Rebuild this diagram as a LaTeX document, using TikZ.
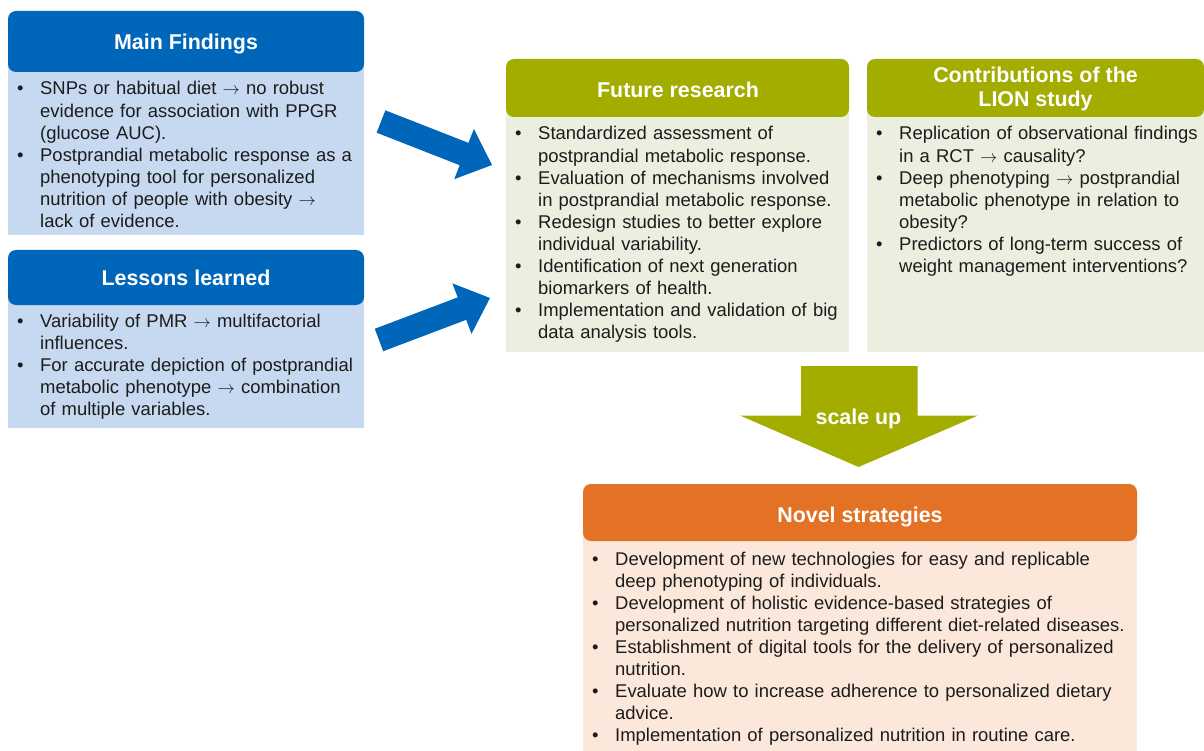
\documentclass[tikz,border=0pt]{standalone}
\usepackage{fontspec}
\setmainfont{Liberation Sans}
\usetikzlibrary{calc}

\definecolor{hdrblue}{RGB}{0,102,185}
\definecolor{bodyblue}{RGB}{198,217,240}
\definecolor{hdrolive}{RGB}{163,173,0}
\definecolor{bodyolive}{RGB}{235,239,223}
\definecolor{hdrorange}{RGB}{227,114,36}
\definecolor{bodypeach}{RGB}{252,232,219}
\definecolor{bodytext}{RGB}{28,28,28}

% one bullet paragraph with a hanging indent; items end with \par
\newcommand{\bul}{\hangindent=23pt\hangafter=1\noindent\makebox[23pt][l]{\textbullet}}
% thin arrow used inside the lists
\newcommand{\toarrow}{$\rightarrow$}

\tikzset{
  x=1pt, y=-1pt,
  hdrbox/.style={rectangle, rounded corners=8pt, fill=#1, draw=none, inner sep=0pt},
  bodybox/.style={rectangle, fill=#1, draw=none, inner sep=0pt},
  title/.style={anchor=base, inner sep=0pt, text=white, align=center,
    font=\fontsize{21.4}{24.8}\selectfont\bfseries},
  listtext/.style={anchor=base west, inner sep=0pt, text width=#1, align=left,
    text=bodytext, font=\fontsize{18.45}{22.05}\selectfont},
  bigarrow/.style={fill=hdrblue, draw=none},
}

\begin{document}
\begin{tikzpicture}
\useasboundingbox (0,0) rectangle (1204,751);
\begin{scope}
\clip (0,0) rectangle (1204,751);

% ---- Main Findings ----
\node (mfB) [bodybox=bodyblue, minimum width=356pt, minimum height=195pt] at (186,137.5) {};
\node (mfH) [hdrbox=hdrblue, minimum width=356pt, minimum height=61pt] at (186,41.5) {};
\node (mfT) [title] at (186,50) {Main Findings};
\node (mfL) [listtext=350pt] at (17,95) {%
\bul SNPs or habitual diet \toarrow{} no robust\newline evidence for association with PPGR\newline (glucose AUC).\par
\bul Postprandial metabolic response as a\newline phenotyping tool for personalized\newline nutrition of people with obesity \toarrow\newline lack of evidence.\par};

% ---- Lessons learned ----
\node (llB) [bodybox=bodyblue, minimum width=356pt, minimum height=150pt] at (186,353) {};
\node (llH) [hdrbox=hdrblue, minimum width=356pt, minimum height=55pt] at (186,277.5) {};
\node (llT) [title] at (186,285.7) {Lessons learned};
\node (llL) [listtext=350pt] at (17,327.3) {%
\bul Variability of PMR \toarrow{} multifactorial\newline influences.\par
\bul For accurate depiction of postprandial\newline metabolic phenotype \toarrow{} combination\newline of multiple variables.\par};

% ---- Future research ----
\node (frB) [bodybox=bodyolive, minimum width=343pt, minimum height=264pt] at (677.5,220) {};
\node (frH) [hdrbox=hdrolive, minimum width=343pt, minimum height=58pt] at (677.5,88) {};
\node (frT) [title] at (678,97.5) {Future research};
\node (frL) [listtext=340pt] at (515,140) {%
\bul Standardized assessment of\newline postprandial metabolic response.\par
\bul Evaluation of mechanisms involved\newline in postprandial metabolic response.\par
\bul Redesign studies to better explore\newline individual variability.\par
\bul Identification of next generation\newline biomarkers of health.\par
\bul Implementation and validation of big\newline data analysis tools.\par};

% ---- Contributions of the LION study ----
\node (lsB) [bodybox=bodyolive, minimum width=337pt, minimum height=264pt] at (1035.5,220) {};
\node (lsH) [hdrbox=hdrolive, minimum width=337pt, minimum height=58pt] at (1035.5,88) {};
\node (lsT) [title] at (1035.5,107) {Contributions of the\\LION study};
\node (lsL) [listtext=330pt] at (876,140) {%
\bul Replication of observational findings\newline in a RCT \toarrow{} causality?\par
\bul Deep phenotyping \toarrow{} postprandial\newline metabolic phenotype in relation to\newline obesity?\par
\bul Predictors of long-term success of\newline weight management interventions?\par};

% ---- Novel strategies ----
\node (nsB) [bodybox=bodypeach, minimum width=554pt, minimum height=248pt] at (860,636) {};
\node (nsH) [hdrbox=hdrorange, minimum width=554pt, minimum height=57pt] at (860,512.5) {};
\node (nsT) [title] at (860,522) {Novel strategies};
\node (nsL) [listtext=545pt] at (592,565) {%
\bul Development of new technologies for easy and replicable\newline deep phenotyping of individuals.\par
\bul Development of holistic evidence-based strategies of\newline personalized nutrition targeting different diet-related diseases.\par
\bul Establishment of digital tools for the delivery of personalized\newline nutrition.\par
\bul Evaluate how to increase adherence to personalized dietary\newline advice.\par
\bul Implementation of personalized nutrition in routine care.\par};

% ---- blue block arrows into Future research ----
\coordinate (a1tail) at (381,121.5);
\coordinate (a1tip)  at (492,165);
\coordinate (a1base) at ($(a1tip)!30pt!(a1tail)$);
\fill[bigarrow] ($(a1tail)!12pt!90:(a1tip)$) -- ($(a1base)!12pt!-90:(a1tail)$)
  -- ($(a1base)!27pt!-90:(a1tail)$) -- (a1tip) -- ($(a1base)!27pt!90:(a1tail)$)
  -- ($(a1base)!12pt!90:(a1tail)$) -- ($(a1tail)!12pt!-90:(a1tip)$) -- cycle;

\coordinate (a2tail) at (379,340);
\coordinate (a2tip)  at (490,298);
\coordinate (a2base) at ($(a2tip)!30pt!(a2tail)$);
\fill[bigarrow] ($(a2tail)!12pt!90:(a2tip)$) -- ($(a2base)!12pt!-90:(a2tail)$)
  -- ($(a2base)!27pt!-90:(a2tail)$) -- (a2tip) -- ($(a2base)!27pt!90:(a2tail)$)
  -- ($(a2base)!12pt!90:(a2tail)$) -- ($(a2tail)!12pt!-90:(a2tip)$) -- cycle;

% ---- scale up arrow ----
\coordinate (suTip) at (858.5,467);
\fill[hdrolive] (801,366) -- (917.5,366) -- (917.5,415.5) -- (978,415.5) -- (suTip)
  -- (740,415.5) -- (801,415.5) -- cycle;
\node (suT) [title] at (858.5,424) {scale up};
\end{scope}
\end{tikzpicture}
\end{document}
